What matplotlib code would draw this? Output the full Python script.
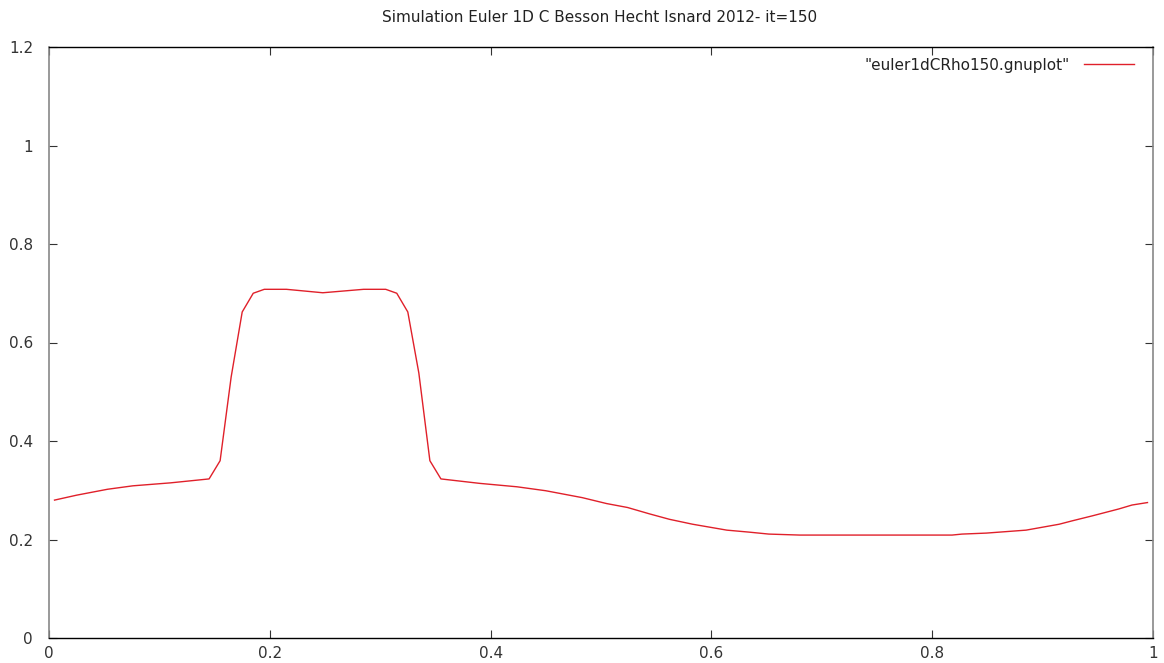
import matplotlib
matplotlib.use("Agg")
import matplotlib.pyplot as plt

title = "Simulation Euler 1D C Besson Hecht Isnard 2012- it=150"
series_label = '"euler1dCRho150.gnuplot"'

x_vals = [0.005, 0.025, 0.053, 0.076, 0.11, 0.145, 0.155, 0.165, 0.175, 0.185,
          0.195, 0.215, 0.248, 0.285, 0.305, 0.315, 0.325, 0.335, 0.345, 0.355,
          0.39, 0.424, 0.45, 0.483, 0.505, 0.524, 0.544, 0.562, 0.583, 0.614,
          0.634, 0.652, 0.68, 0.818, 0.827, 0.849, 0.885, 0.915, 0.927, 0.945,
          0.969, 0.981, 0.995]
rho_vals = [0.280, 0.290, 0.302, 0.309, 0.315, 0.323, 0.360, 0.530, 0.662, 0.700,
            0.708, 0.708, 0.701, 0.708, 0.708, 0.700, 0.662, 0.538, 0.360, 0.323,
            0.314, 0.307, 0.299, 0.285, 0.273, 0.265, 0.252, 0.241, 0.231, 0.219,
            0.215, 0.211, 0.209, 0.209, 0.211, 0.213, 0.219, 0.231, 0.238, 0.248,
            0.262, 0.270, 0.275]

x_ticks = [0, 0.2, 0.4, 0.6, 0.8, 1]
x_tick_labels = ["0", "0.2", "0.4", "0.6", "0.8", "1"]
y_ticks = [0, 0.2, 0.4, 0.6, 0.8, 1, 1.2]
y_tick_labels = ["0", "0.2", "0.4", "0.6", "0.8", "1", "1.2"]

plt.rcParams['font.family'] = ['DejaVu Sans']
fig = plt.figure(figsize=(11.64, 6.63), dpi=100)
ax = fig.add_axes([49/1164, 1-638/663, (1153-49)/1164, (638-47)/663])

ax.plot(x_vals, rho_vals, color="#e0202a", linewidth=1.0, label=series_label)

ax.set_xlim(0, 1)
ax.set_ylim(0, 1.2)
ax.set_xticks(x_ticks)
ax.set_xticklabels(x_tick_labels)
ax.set_yticks(y_ticks)
ax.set_yticklabels(y_tick_labels)
ax.tick_params(direction="in", length=6, width=0.8, top=True, right=True,
               labelsize=11, colors="#333333")
ax.tick_params(axis="y", pad=11.5)
ax.tick_params(axis="x", pad=6)
for side in ["left", "right"]:
    ax.spines[side].set_color("#888888")
    ax.spines[side].set_linewidth(1.2)
for side in ["top", "bottom"]:
    ax.spines[side].set_color("black")
    ax.spines[side].set_linewidth(1.0)

fig.text(600/1164, 1 - 17/663, title, ha="center", va="center", fontsize=11, color="#222222")

leg = ax.legend(loc="upper right", frameon=False, markerfirst=False,
                handlelength=3.3, handletextpad=0.9, fontsize=11, borderaxespad=0.3,
                bbox_to_anchor=(0.9925, 1.0))
for t in leg.get_texts():
    t.set_color("#222222")

fig.savefig("out.png", dpi=100)
